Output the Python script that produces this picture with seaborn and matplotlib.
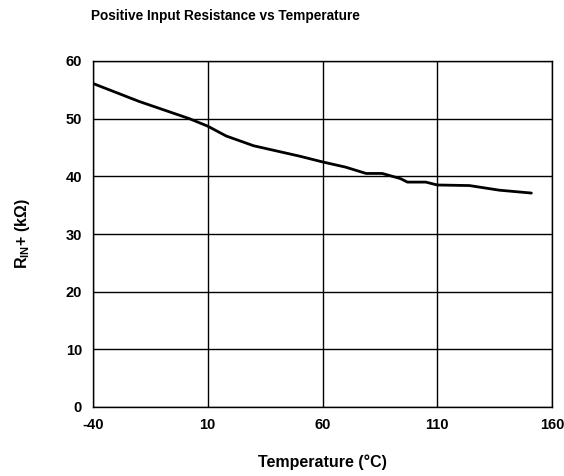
import matplotlib
matplotlib.use("Agg")
import matplotlib.pyplot as plt
import seaborn as sns
import pandas as pd

# Input resistance readings across temperature
temperature_c = [-40, -20, 2, 10, 18, 30, 50, 60, 70, 79, 86, 94, 97, 105, 110, 124, 137, 151]
resistance_kohm = [56.1, 53.0, 50.0, 48.7, 47.0, 45.3, 43.5, 42.5, 41.6, 40.5, 40.5, 39.6, 39.0, 39.0, 38.5, 38.4, 37.6, 37.1]

x_ticks = [-40, 10, 60, 110, 160]
y_ticks = [0, 10, 20, 30, 40, 50, 60]

sns.set_theme(style="white")
plt.rcParams["font.family"] = ["Liberation Sans", "DejaVu Sans"]
plt.rcParams["text.color"] = "black"
plt.rcParams["axes.labelcolor"] = "black"
plt.rcParams["xtick.color"] = "black"
plt.rcParams["ytick.color"] = "black"
plt.rcParams["mathtext.fontset"] = "custom"
plt.rcParams["mathtext.rm"] = "Liberation Sans:bold"
plt.rcParams["mathtext.bf"] = "Liberation Sans:bold"
plt.rcParams["mathtext.it"] = "Liberation Sans:bold"

df = pd.DataFrame({"Temperature": temperature_c, "Resistance": resistance_kohm})

fig = plt.figure(figsize=(5.64, 4.76), dpi=100)
ax = fig.add_axes([93 / 564, 1 - 407 / 476, 459 / 564, 346 / 476])

sns.lineplot(data=df, x="Temperature", y="Resistance", ax=ax, color="black", linewidth=2.0)

ax.set_xlim(-40, 160)
ax.set_ylim(0, 60)
ax.set_xticks(x_ticks)
ax.set_yticks(y_ticks)
ax.set_xticklabels([str(t) for t in x_ticks], fontsize=10.5, fontweight="bold", color="black")
ax.set_yticklabels([str(t) for t in y_ticks], fontsize=10.5, fontweight="bold", color="black")
ax.tick_params(axis="both", length=0, pad=8, colors="black")
ax.grid(True, color="black", linewidth=1.0)
for s in ax.spines.values():
    s.set_color("black")
    s.set_linewidth(1.0)
    s.set_visible(True)

ax.set_xlabel("Temperature (°C)", fontsize=11.5, fontweight="bold", labelpad=16, color="black")
ax.set_ylabel(r"$\mathregular{R_{IN}}$+ (kΩ)", fontsize=11.5, fontweight="bold", labelpad=24, color="black")

fig.text(91 / 564, 1 - 16 / 476, "Positive Input Resistance vs Temperature",
         fontsize=9.8, fontweight="bold", ha="left", va="center", color="black")

fig.savefig("out.png", dpi=100)
